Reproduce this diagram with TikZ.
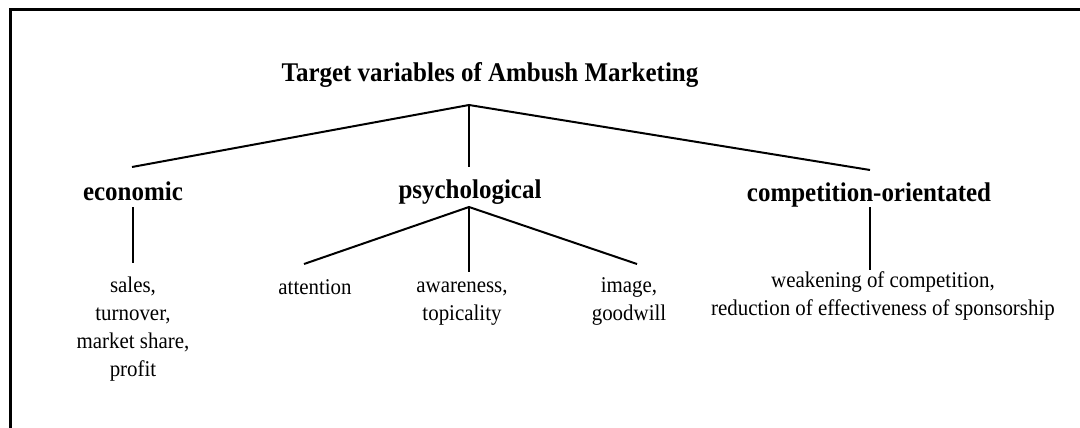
\documentclass[tikz,border=0pt]{standalone}
\usepackage{fontspec}
\setmainfont{Liberation Serif}
\newfontfamily\headfont{Liberation Serif}[FakeStretch=0.925]
\newfontfamily\leaffont{Liberation Serif}[FakeStretch=0.93]
\begin{document}
\begin{tikzpicture}[x=1pt,y=-1pt,
  headtext/.style={inner sep=0pt,anchor=base,font=\headfont\fontsize{27}{30}\selectfont\bfseries},
  leaftext/.style={inner sep=0pt,anchor=base,align=center,font=\leaffont\fontsize{22.5}{28}\selectfont},
  link/.style={line width=2pt},
  frame/.style={line width=3pt}]
\useasboundingbox (0,0) rectangle (1080,428);
\draw[frame] (10.5,9.5) rectangle (1110,460);

% text nodes (multi-line nodes: base = baseline of last line)
\node[headtext] (title) at (490,82) {Target variables of Ambush Marketing};
\node[headtext] (eco)  at (133,200) {economic};
\node[headtext] (psy)  at (470,198) {psychological};
\node[headtext] (comp) at (869,201) {competition-orientated};

\node[leaftext] (sales) at (133,376) {sales,\\turnover,\\market share,\\profit};
\node[leaftext] (att)   at (315,294) {attention};
\node[leaftext] (awa)   at (462,320) {awareness,\\topicality};
\node[leaftext] (img)   at (629,320) {image,\\goodwill};
\node[leaftext] (weak)  at (883,315) {weakening of competition,\\reduction of effectiveness of sponsorship};

% connector points
\coordinate (j0) at (469,105);
\coordinate (ecoT) at (132,167);
\coordinate (psyT) at (469,167);
\coordinate (compT) at (870,170);
\coordinate (ecoB) at (133,207);
\coordinate (salesT) at (133,263);
\coordinate (psyB) at (469,207);
\coordinate (attT) at (304,264);
\coordinate (awaT) at (469,272);
\coordinate (imgT) at (637,264);
\coordinate (compB) at (870,207);
\coordinate (weakT) at (870,270);

\draw[link] (ecoT) -- (j0) -- (compT);
\draw[link] (j0) -- (psyT);
\draw[link] (ecoB) -- (salesT);
\draw[link] (attT) -- (psyB) -- (imgT);
\draw[link] (psyB) -- (awaT);
\draw[link] (compB) -- (weakT);
\end{tikzpicture}
\end{document}
